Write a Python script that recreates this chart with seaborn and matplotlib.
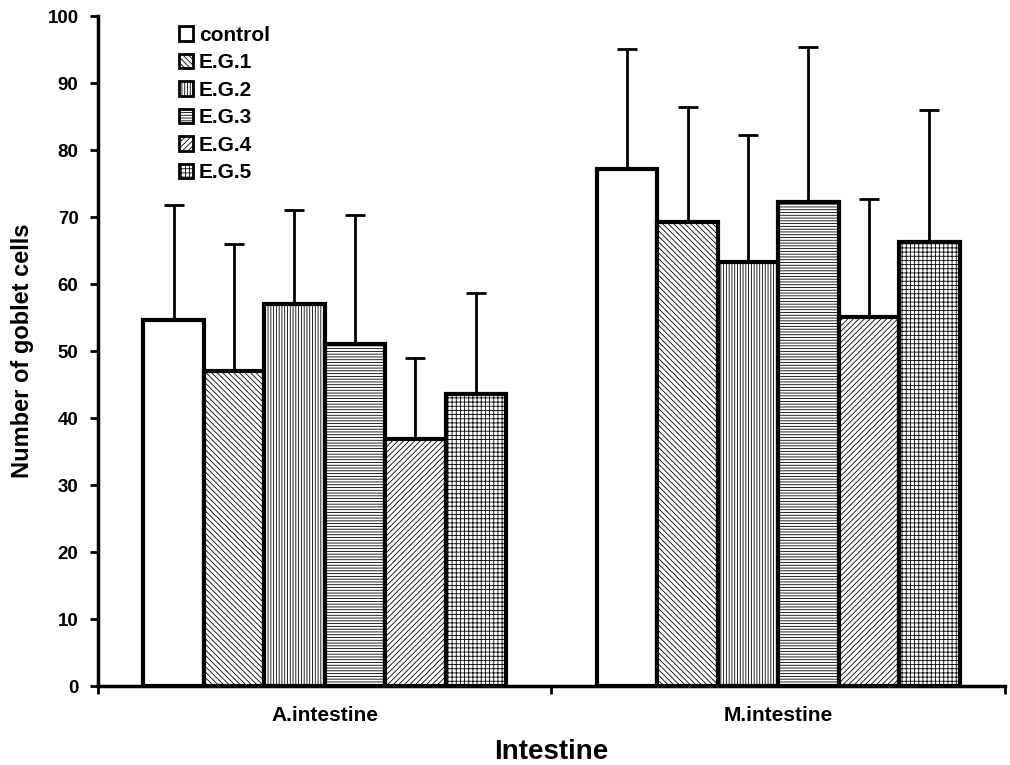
import pandas as pd
import seaborn as sns
import matplotlib.pyplot as plt

# values (mean and upper SD arm)
sites = ['A.intestine', 'M.intestine']
groups = ['control', 'E.G.1', 'E.G.2', 'E.G.3', 'E.G.4', 'E.G.5']
mean_a = [54.6, 47.0, 57.0, 51.0, 36.9, 43.6]
mean_m = [77.2, 69.3, 63.3, 72.2, 55.1, 66.3]
sd_a = [17.2, 19.0, 14.0, 19.3, 12.1, 15.1]
sd_m = [17.9, 17.1, 18.9, 23.2, 17.6, 19.7]

HATCHES = ['', '\\\\\\\\\\\\', '||||||', '------', '//////', '++++']


def main():
    sns.set_style('white', {'text.color': 'black', 'axes.labelcolor': 'black',
                            'xtick.color': 'black', 'ytick.color': 'black'})
    plt.rcParams['font.family'] = ['Liberation Sans', 'DejaVu Sans']
    plt.rcParams['hatch.linewidth'] = 0.6

    df = pd.DataFrame({
        'site': sites[0:1] * 6 + sites[1:2] * 6,
        'group': groups * 2,
        'value': mean_a + mean_m,
        'sd': sd_a + sd_m,
    })

    fig = plt.figure(figsize=(10.1, 7.65), dpi=100)
    ax = fig.add_axes([0.097, 0.103, 0.898, 0.876])
    sns.barplot(data=df, x='site', y='value', hue='group', order=sites,
                hue_order=groups, palette=['white'] * 6, edgecolor='black',
                linewidth=3, width=0.8, errorbar=None, ax=ax, zorder=2)

    for cont, h, g in zip(ax.containers, HATCHES, groups):
        sub = df[df['group'] == g].set_index('site').loc[sites]
        for bar, err in zip(cont, sub['sd']):
            bar.set_hatch(h)
            x = bar.get_x() + bar.get_width() / 2
            ax.errorbar(x, bar.get_height(), yerr=[[0], [err]], color='black',
                        lw=2, capsize=7, capthick=2, zorder=1)

    ax.set_xlim(-0.5, 1.5)
    ax.set_ylim(0, 100)
    ax.set_yticks(range(0, 101, 10))
    for lab in ax.get_yticklabels():
        lab.set_fontweight('bold')
        lab.set_fontsize(13.5)
    ax.tick_params(axis='y', direction='out', length=6, width=2, left=True,
                   pad=8, colors='black')
    ax.set_xticks([-0.5, 0.5, 1.5], minor=True)
    ax.tick_params(axis='x', which='minor', direction='out', length=6,
                   width=2, bottom=True, colors='black')
    ax.tick_params(axis='x', which='major', length=0, pad=14, labelsize=15,
                   labelcolor='black')
    for lab in ax.get_xticklabels():
        lab.set_fontweight('bold')

    for side in ['top', 'right']:
        ax.spines[side].set_visible(False)
    for side in ['left', 'bottom']:
        ax.spines[side].set_linewidth(2.5)
        ax.spines[side].set_color('black')

    ax.set_ylabel('Number of goblet cells', fontsize=17, fontweight='bold',
                  labelpad=10, color='black')
    ax.set_xlabel('Intestine', fontsize=20, fontweight='bold', labelpad=10,
                  color='black')

    leg = ax.legend(loc='upper left', bbox_to_anchor=(0.08, 0.998),
                    frameon=False, prop={'weight': 'bold', 'size': 15},
                    handlelength=0.7, handleheight=0.7, handletextpad=0.25,
                    labelspacing=0.41, borderaxespad=0)
    for patch, h in zip(leg.get_patches(), HATCHES):
        patch.set_linewidth(2)
        patch.set_hatch(h)
    for t in leg.get_texts():
        t.set_color('black')

    fig.savefig('out.png', dpi=100)


if __name__ == '__main__':
    main()
